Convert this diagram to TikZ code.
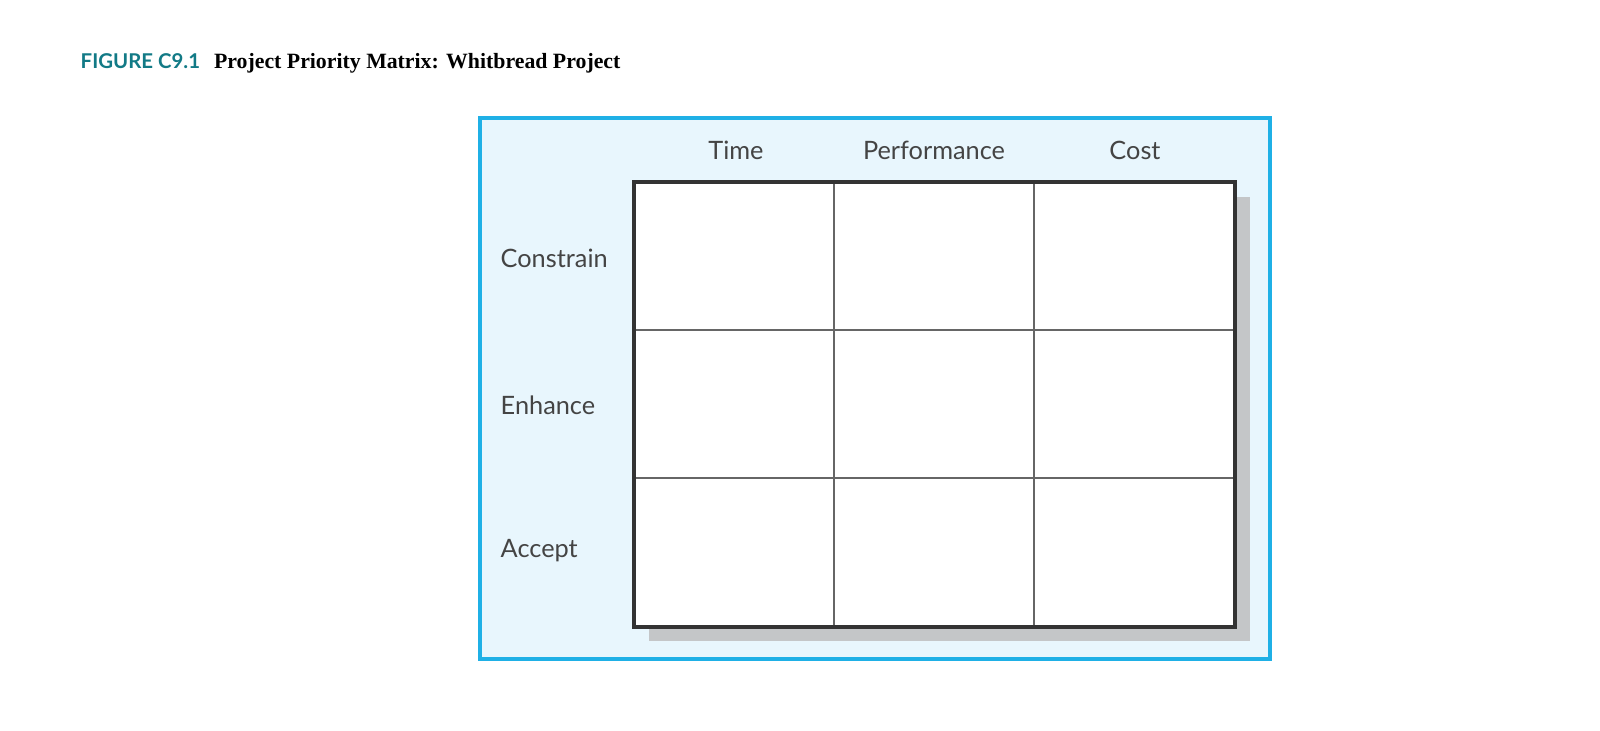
\documentclass[tikz,border=0pt]{standalone}
\usepackage{fontspec}
\setmainfont{Liberation Serif}
\newfontfamily\lbl{Lato}
\definecolor{frameblue}{HTML}{1FB0E6}
\definecolor{fillblue}{HTML}{E8F6FD}
\definecolor{teal9}{HTML}{127A86}
\definecolor{txt}{HTML}{444444}
\definecolor{shadowgray}{HTML}{C4C6C8}
\tikzset{
  lab/.style={font=\lbl\fontsize{7.2}{8}\selectfont, text=txt, inner sep=0pt},
  rowlab/.style={lab, anchor=west},
  cell/.style={draw=black!60, line width=0.4pt}
}
\begin{document}
\begin{tikzpicture}[x=0.01cm,y=-0.01cm]
\useasboundingbox (0,0) rectangle (1600,730);
\node[anchor=base west, inner sep=0pt] (title) at (80,68) {{\lbl\fontsize{5.8}{7}\selectfont\bfseries\color{teal9}FIGURE C9.1}\hspace{0.4em}{\fontsize{6.2}{7}\selectfont\bfseries Project Priority Matrix: Whitbread Project}};
\draw[draw=frameblue, fill=fillblue, line width=0.9pt] (480,118) rectangle (1270,659);
\fill[shadowgray] (649,197) rectangle (1250,641);
\fill[white] (634,182) rectangle (1235,627);
\foreach \x in {834,1034} \draw[cell] (\x,182) -- (\x,627);
\foreach \y in {330,478} \draw[cell] (634,\y) -- (1235,\y);
\draw[line width=0.9pt, draw=black!80] (634,182) rectangle (1235,627);
\node[lab] (time) at (736,150) {Time};
\node[lab] (perf) at (934,150) {Performance};
\node[lab] (cost) at (1135,150) {Cost};
\node[rowlab] (con) at (500,258) {Constrain};
\node[rowlab] (enh) at (500,405) {Enhance};
\node[rowlab] (acc) at (500,551) {Accept};
\end{tikzpicture}
\end{document}
